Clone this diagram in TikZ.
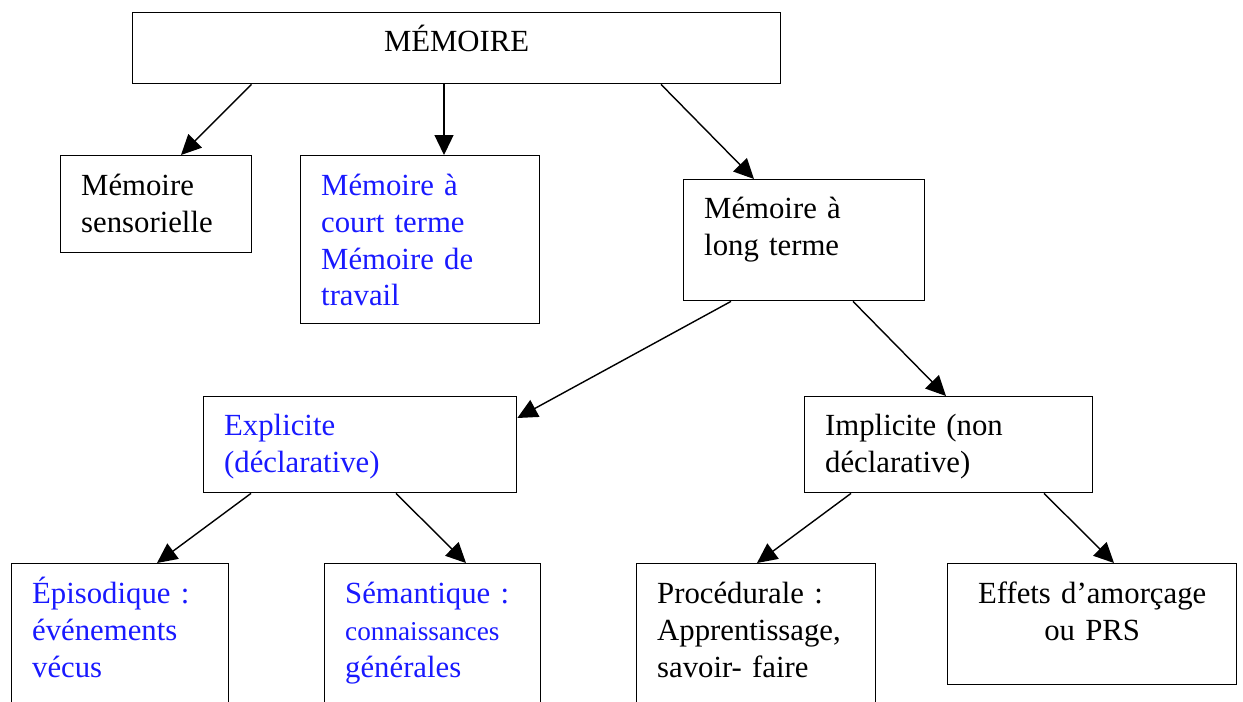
\documentclass[tikz,border=0pt]{standalone}
\usepackage{fontspec}
\setmainfont{Liberation Serif}
\usetikzlibrary{arrows.meta, calc}
\definecolor{memblue}{RGB}{25,25,255}

\begin{document}
\begin{tikzpicture}[
	x=0.02cm, y=-0.02cm,
	every node/.style={font=\fontsize{17.5}{20.9}\selectfont},
	box/.style={rectangle, draw=black, line width=0.8pt, anchor=north west, align=left, inner xsep=0.41cm, inner ysep=0pt, text height=0.8cm},
	bleu/.style={text=memblue},
	arrow/.style={-{Triangle[length=0.4cm, width=0.38cm]}, line width=0.8pt}
]
\clip (0,0) rectangle (1243,702);

% Top level
\node[box, align=center, text width=12.14cm, text height=0.78cm, text depth=0.64cm] (mem) at (132,12) {MÉMOIRE};

% Second level
\node[box, text width=3.00cm, text depth=1.14cm] (sens) at (60,155) {Mémoire\\ sensorielle};
\node[box, bleu, text width=3.96cm, text depth=2.56cm] (court) at (300,155) {Mémoire à\\ court terme\\ Mémoire de\\ travail};
\node[box, text width=4.00cm, text height=0.78cm, text depth=1.64cm] (long) at (683,179) {Mémoire à\\ long terme};

% Explicit / implicit
\node[box, bleu, text width=5.44cm, text height=0.78cm, text depth=1.14cm] (expl) at (203,396) {Explicite\\ (déclarative)};
\node[box, text width=4.94cm, text height=0.78cm, text depth=1.14cm] (impl) at (804,396) {Implicite (non\\ déclarative)};

% Bottom level
\node[box, bleu, text width=3.52cm, text depth=2.24cm] (epi) at (11,563) {Épisodique :\\ événements\\ vécus};
\node[box, bleu, text width=3.50cm, text depth=2.24cm] (sem) at (324,563) {Sémantique :\\ {\fontsize{15.5}{18}\selectfont connaissances}\\ générales};
\node[box, text width=3.96cm, text depth=2.24cm] (proc) at (636,563) {Procédurale :\\ Apprentissage,\\ savoir- faire};
\node[box, align=center, text width=4.96cm, text depth=1.62cm] (eff) at (947,563) {Effets d’amorçage\\ ou PRS};

% Arrows
\draw[arrow] ($(mem.south west)+(119.5,0)$) -- ($(sens.north west)+(121,0)$);
\draw[arrow] ($(mem.south west)+(312,0)$) -- ($(court.north west)+(144,0)$);
\draw[arrow] ($(mem.south west)+(529,0)$) -- ($(long.north west)+(71,0)$);
\draw[arrow] ($(long.south west)+(48,0)$) -- ($(expl.north east)+(0,22)$);
\draw[arrow] ($(long.south west)+(170,0)$) -- ($(impl.north west)+(142,0)$);
\draw[arrow] ($(expl.south west)+(48,0)$) -- ($(epi.north west)+(146,0)$);
\draw[arrow] ($(expl.south west)+(193,0)$) -- ($(sem.north west)+(142,0)$);
\draw[arrow] ($(impl.south west)+(47,0)$) -- ($(proc.north west)+(121,0)$);
\draw[arrow] ($(impl.south west)+(240,0)$) -- ($(eff.north west)+(167,0)$);

\end{tikzpicture}
\end{document}
